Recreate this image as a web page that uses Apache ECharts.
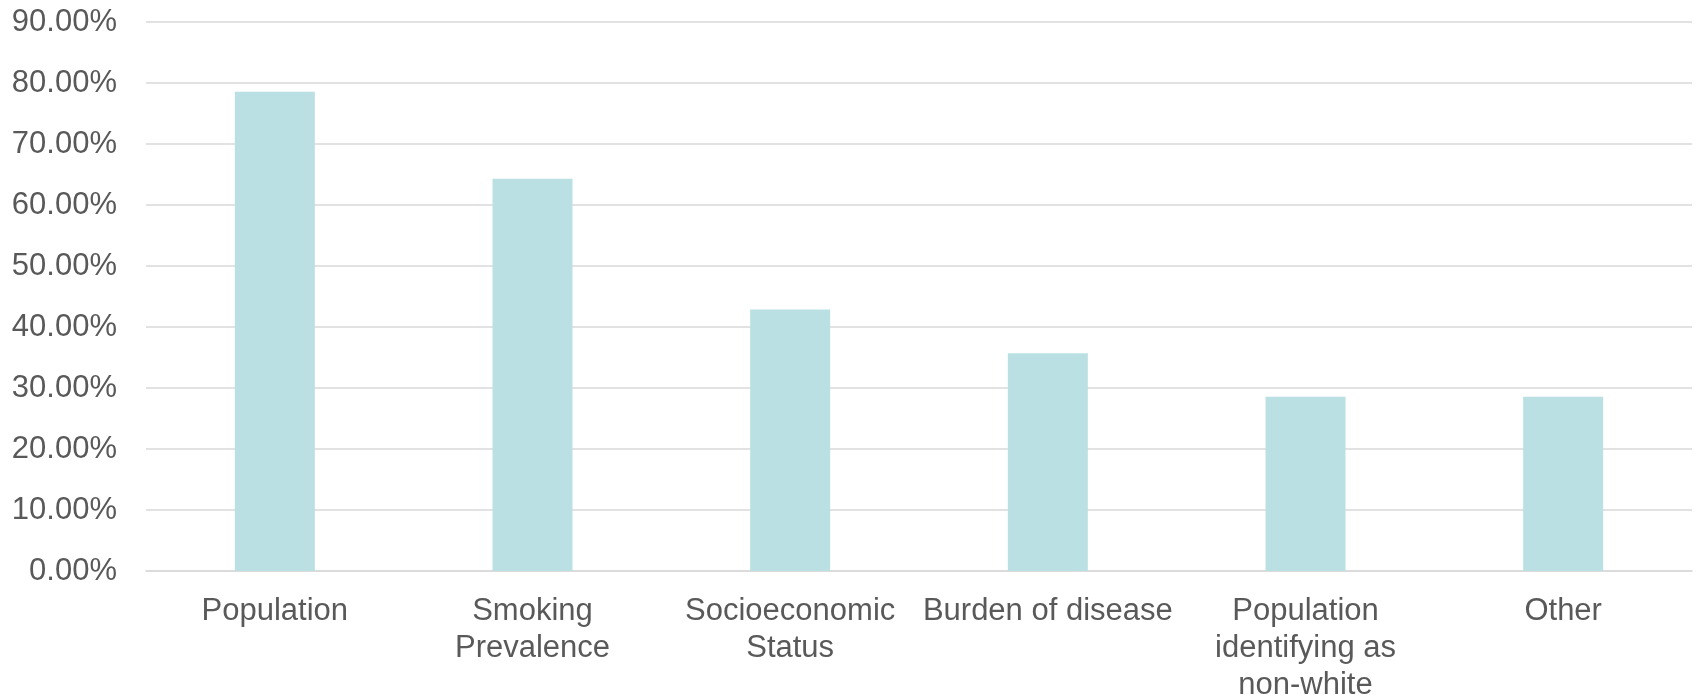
<!DOCTYPE html>
<html>
<head>
<meta charset="utf-8">
<script src="https://cdn.jsdelivr.net/npm/echarts@6/dist/echarts.min.js"></script>
<style>
  html, body { margin: 0; padding: 0; background: #fff; }
  #chart { width: 1696px; height: 695px; }
</style>
</head>
<body>
<div id="chart"></div>
<script>
// Share of responses per allocation criterion (%)
const categories = [
  'Population',
  'Smoking\nPrevalence',
  'Socioeconomic\nStatus',
  'Burden of disease',
  'Population\nidentifying as\nnon-white',
  'Other'
];
const shares = [78.57, 64.29, 42.86, 35.71, 28.57, 28.57];
const axisMax = 90;
const axisStep = 10;

const textColor = '#595959';
const fontFamily = '"Liberation Sans", Arial, sans-serif';

const chart = echarts.init(document.getElementById('chart'), null, { renderer: 'canvas' });
chart.setOption({
  animation: false,
  backgroundColor: '#ffffff',
  grid: {
    left: 146, right: 4, top: 22, bottom: 124,
    containLabel: false,
    outerBoundsMode: 'none'
  },
  xAxis: {
    type: 'category',
    data: categories,
    axisLine: { show: true, lineStyle: { color: '#d9d9d9', width: 1.5 } },
    axisTick: { show: false },
    axisLabel: {
      color: textColor,
      fontFamily: fontFamily,
      fontSize: 31,
      lineHeight: 37,
      margin: 22,
      interval: 0
    }
  },
  yAxis: {
    type: 'value',
    min: 0,
    max: axisMax,
    interval: axisStep,
    axisLine: { show: false },
    axisTick: { show: false },
    splitLine: { lineStyle: { color: '#d9d9d9', width: 1.5 } },
    axisLabel: {
      color: textColor,
      fontFamily: fontFamily,
      fontSize: 31,
      margin: 29,
      formatter: v => v.toFixed(2) + '%'
    }
  },
  series: [{
    type: 'bar',
    data: shares,
    barWidth: 80,
    itemStyle: { color: '#bae0e3' }
  }]
});
</script>
</body>
</html>
